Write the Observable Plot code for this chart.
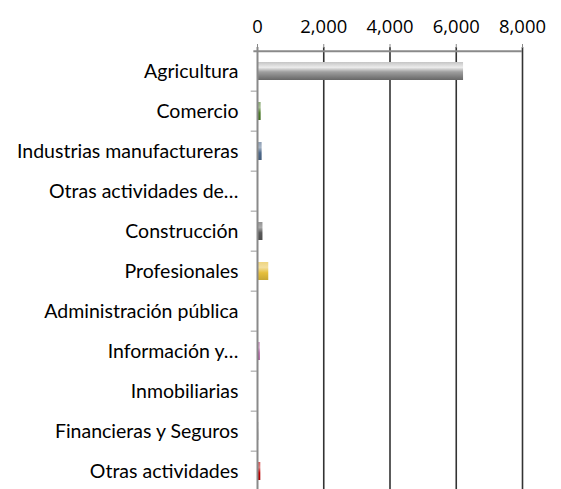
<!DOCTYPE html>
<html>
<head>
<meta charset="utf-8">
<script src="https://cdn.jsdelivr.net/npm/d3@7"></script>
<script src="https://cdn.jsdelivr.net/npm/@observablehq/plot@0.6"></script>
<style>
  html, body { margin: 0; padding: 0; background: #fff; overflow: hidden; }
  #chart svg { display: block; }
</style>
</head>
<body>
<div id="chart"></div>
<script>
const categories = [
  "Agricultura",
  "Comercio",
  "Industrias manufactureras",
  "Otras actividades de…",
  "Construcción",
  "Profesionales",
  "Administración pública",
  "Información y…",
  "Inmobiliarias",
  "Financieras y Seguros",
  "Otras actividades"
];
const values = [6220, 110, 140, 25, 165, 340, 25, 85, 8, 40, 100];
const barColors = ["#7f7f7f", "#4e7d2a", "#4f6a8c", "#8a6d4e", "#595959", "#e6bf3c", "#8a8a5a", "#b45fa6", "#a0a0a0", "#8c8c8c", "#c00000"];
const xTicks = [0, 2000, 4000, 6000, 8000];

const data = categories.map((c, i) => ({category: c, value: values[i], idx: i}));

const W = 561, H = 489;
const plotTop = 47, plotBottom = 494.7;
const band = (plotBottom - plotTop) / categories.length;

const plot = Plot.plot({
  width: W,
  height: H,
  marginTop: plotTop,
  marginLeft: 257,
  marginRight: 39,
  marginBottom: 0,
  style: {fontFamily: "Lato, 'Open Sans', sans-serif", fontSize: "16px", color: "#000", background: "#fff"},
  x: {domain: [0, 8000], axis: null},
  y: {domain: categories, range: [plotTop, plotBottom], paddingInner: 0.56, paddingOuter: 0.28, align: 0.5, axis: null},
  marks: [
    Plot.ruleX(xTicks.filter(d => d > 0), {x: d => d, stroke: "#333", strokeWidth: 1.6}),
    Plot.barX(data, {y: "category", x: "value", fill: d => `url(#grad${d.idx})`}),
    Plot.ruleX([0], {stroke: "#8a8a8a", strokeWidth: 2}),
    Plot.ruleY(categories.slice(1), {y: d => d, x1: -190, x2: 0, dy: -band / 2, stroke: "#999", strokeWidth: 1, clip: false}),
    Plot.axisX(xTicks, {anchor: "top", label: null, tickSize: 4, tickPadding: 11, stroke: "#888", tickFormat: d3.format(","), fontSize: 18.4, fontFamily: "'Open Sans', sans-serif", fill: "#000"}),
    Plot.ruleY([categories[0]], {y: d => d, x1: -110, x2: 8000, dy: -band / 2, stroke: "#8a8a8a", strokeWidth: 2, clip: false}),
    Plot.text(categories, {y: d => d, x: 0, text: d => d, textAnchor: "end", dx: -19, fontSize: 19.5, fill: "#000"})
  ]
});

const ns = "http://www.w3.org/2000/svg";
const defs = document.createElementNS(ns, "defs");
barColors.forEach((c, i) => {
  const g = document.createElementNS(ns, "linearGradient");
  g.setAttribute("id", "grad" + i);
  g.setAttribute("x1", "0"); g.setAttribute("y1", "0");
  g.setAttribute("x2", "0"); g.setAttribute("y2", "1");
  const base = d3.color(c);
  const mix = t => d3.interpolateRgb(c, "#fff")(t);
  const stops = i === 0
    ? [[0, mix(0.55)], [0.3, mix(0.85)], [0.55, mix(0.25)], [1, base.darker(0.6).formatHex()]]
    : [[0, mix(0.35)], [0.3, mix(0.5)], [0.6, base.formatHex()], [1, base.darker(0.4).formatHex()]];
  stops.forEach(([o, col]) => {
    const s = document.createElementNS(ns, "stop");
    s.setAttribute("offset", o);
    s.setAttribute("stop-color", col);
    g.appendChild(s);
  });
  defs.appendChild(g);
});
plot.insertBefore(defs, plot.firstChild);
document.getElementById("chart").appendChild(plot);
</script>
</body>
</html>
